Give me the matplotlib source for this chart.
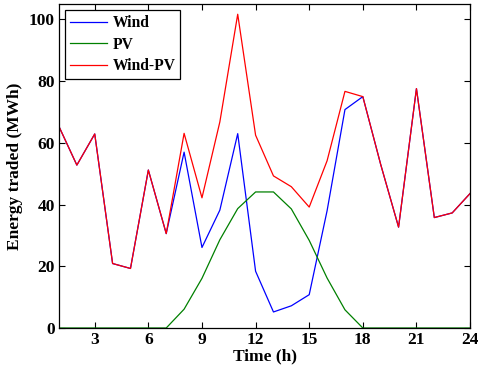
import numpy as np
import matplotlib
matplotlib.use('Agg')
import matplotlib.pyplot as plt

hours = list(range(1, 25))
wind = [65.3, 52.8, 62.9, 20.9, 19.3, 51.2, 30.6, 57.0, 26.1, 38.2, 63.0, 18.4,
        5.2, 7.2, 10.8, 38.0, 70.8, 75.0, 53.0, 32.7, 77.6, 35.8, 37.3, 43.6]
pv = [0, 0, 0, 0, 0, 0, 0, 6.1, 16.1, 28.6, 38.7, 44.1,
      44.1, 38.6, 28.4, 16.2, 5.9, 0, 0, 0, 0, 0, 0, 0]
wind_pv = [w + p for w, p in zip(wind, pv)]

plt.rcParams['font.family'] = ['Liberation Serif', 'DejaVu Serif']
plt.rcParams['font.weight'] = 'bold'
plt.rcParams['font.size'] = 12.5

fig = plt.figure(figsize=(4.78, 3.70), dpi=100)
ax = fig.add_axes([0.1234, 0.1135, 0.86, 0.8755])

ax.plot(hours, wind, color='#0000ff', lw=0.9, label='Wind')
ax.plot(hours, pv, color='#008000', lw=0.9, label='PV')
ax.plot(hours, wind_pv, color='#ff0000', lw=0.9, label='Wind-PV')

ax.set_xlim(1, 24)
ax.set_ylim(0, 105)
ax.set_xticks([3, 6, 9, 12, 15, 18, 21, 24])
ax.set_yticks([0, 20, 40, 60, 80, 100])
ax.tick_params(direction='in', top=True, right=True, length=4, width=0.8, pad=3)
for s in ax.spines.values():
    s.set_linewidth(0.9)

ax.set_xlabel('Time (h)', fontweight='bold', labelpad=0)
ax.set_ylabel('Energy traded (MWh)', fontweight='bold', labelpad=4)

leg = ax.legend(loc='upper left', fancybox=False, framealpha=1, edgecolor='black',
                prop={'weight': 'bold', 'size': 11.2}, borderaxespad=0.4,
                handlelength=2.4, handletextpad=0.35, labelspacing=0.36,
                borderpad=0.3)
leg.get_frame().set_linewidth(0.9)

fig.savefig('out.png', dpi=100)
